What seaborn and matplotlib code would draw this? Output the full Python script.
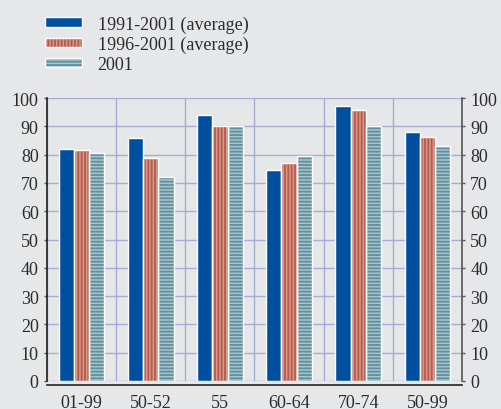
import matplotlib
matplotlib.use("Agg")
import matplotlib.pyplot as plt
from matplotlib.patches import Rectangle, Patch
from matplotlib.legend_handler import HandlerTuple
import seaborn as sns
import pandas as pd

categories = ["01-99", "50-52", "55", "60-64", "70-74", "50-99"]
series_names = ["1991-2001 (average)", "1996-2001 (average)", "2001"]
avg_1991_2001 = [82.1, 85.9, 94.1, 74.7, 97.2, 88.1]
avg_1996_2001 = [81.5, 78.7, 90.0, 76.9, 95.9, 86.3]
year_2001 = [80.6, 72.0, 90.0, 79.5, 90.0, 83.1]
y_ticks = list(range(0, 101, 10))

face_colors = ["#00509f", "#d9998a", "#a9c4cc"]
stripe_colors = [None, "#b55a4b", "#5f8f9b"]
hatches = [None, "|||||", "-----"]

bg = "#e6e7e9"
grid_c = "#a5acd8"
text_c = "#2b2b2b"

df = pd.DataFrame({
    "category": categories * 3,
    "series": [series_names[0]] * 6 + [series_names[1]] * 6 + [series_names[2]] * 6,
    "value": avg_1991_2001 + avg_1996_2001 + year_2001,
})

sns.set_style("white")
plt.rcParams["font.family"] = ["Liberation Serif", "DejaVu Serif"]
plt.rcParams["hatch.linewidth"] = 1.3

fig = plt.figure(figsize=(5.01, 4.10), dpi=100, facecolor=bg)
ax = fig.add_axes([47 / 501, 28 / 410, 415 / 501, 283 / 410])
ax.set_facecolor(bg)

sns.barplot(data=df, x="category", y="value", hue="series", order=categories,
            hue_order=series_names, palette=face_colors, width=0.66,
            saturation=1, linewidth=0, ax=ax, legend=False, zorder=3)

# stripes and white outlines on each bar
for i, cont in enumerate(ax.containers):
    for bar in cont:
        x, y = bar.get_x(), bar.get_y()
        w, h = bar.get_width(), bar.get_height()
        if hatches[i]:
            ax.add_patch(Rectangle((x, y), w, h, facecolor="none",
                                   edgecolor=stripe_colors[i], hatch=hatches[i],
                                   linewidth=0, zorder=3.5))
        ax.add_patch(Rectangle((x, y), w, h, facecolor="none",
                               edgecolor="white", linewidth=1.0, zorder=4))

ax.set_xlim(-0.5, len(categories) - 0.5)
ax.set_ylim(0, 100)
ax.set_yticks(y_ticks)
ax.set_xlabel("")
ax.set_ylabel("")

# grid: horizontal at each tick, vertical between groups
ax.set_xticks([i + 0.5 for i in range(-1, len(categories))], minor=True)
ax.grid(axis="y", which="major", color=grid_c, linewidth=1.0, zorder=0)
ax.grid(axis="x", which="minor", color=grid_c, linewidth=1.0, zorder=0)
ax.set_axisbelow(True)

ax.spines["top"].set_visible(False)
ax.spines["left"].set_color("#222222")
ax.spines["right"].set_color("#555555")
ax.spines["left"].set_linewidth(1.2)
ax.spines["right"].set_linewidth(1.2)
ax.spines["bottom"].set_position(("outward", 3))
ax.spines["bottom"].set_color("#222222")
ax.spines["bottom"].set_linewidth(1.2)

ax.tick_params(axis="x", which="major", length=0, pad=6.5, labelsize=13,
               labelcolor=text_c)
ax.tick_params(axis="x", which="minor", direction="in", length=4, width=1.2,
               color="#222222")
ax.tick_params(axis="y", which="both", length=2, width=1, color="#555555",
               labelsize=13, labelcolor=text_c, left=True, right=True,
               labelleft=True, labelright=True, pad=4)

# legend in the top-left corner
handles = []
for i in range(3):
    parts = [Patch(facecolor=face_colors[i], edgecolor="none")]
    if hatches[i]:
        parts.append(Patch(facecolor="none", edgecolor=stripe_colors[i],
                           hatch=hatches[i], linewidth=0))
    parts.append(Patch(facecolor="none", edgecolor="white", linewidth=1.0))
    handles.append(tuple(parts))

fig.legend(handles, series_names, loc="upper left",
           bbox_to_anchor=(29 / 501, 1 - 0 / 410), frameon=False,
           handler_map={tuple: HandlerTuple(ndivide=1, pad=0)},
           handlelength=2.05, handleheight=0.4, handletextpad=0.85,
           labelspacing=0.17, fontsize=13, labelcolor=text_c)

fig.savefig("out.png", dpi=100, facecolor=bg)
